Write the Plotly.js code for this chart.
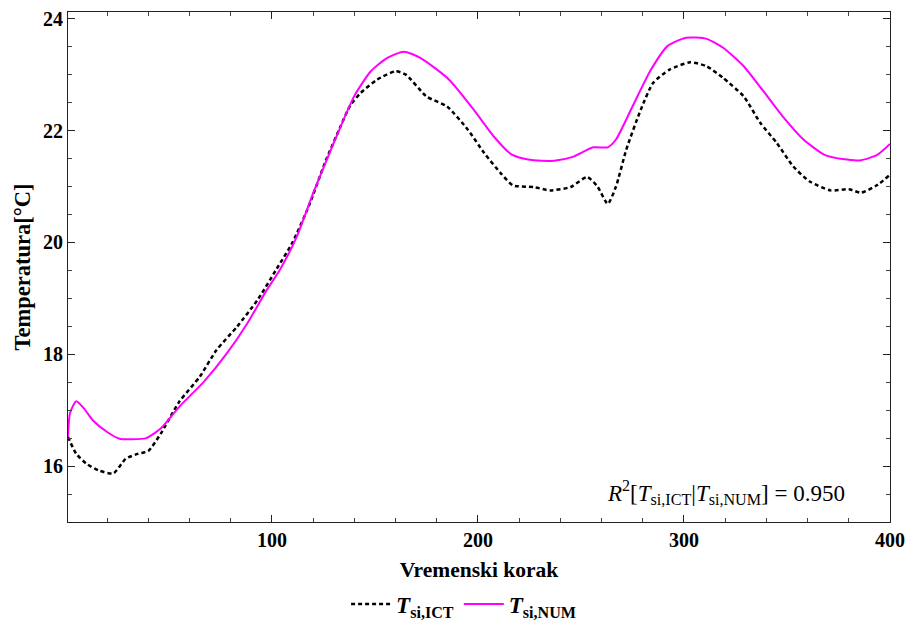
<!DOCTYPE html>
<html>
<head>
<meta charset="utf-8">
<script src="https://cdn.plot.ly/plotly-3.0.1.min.js"></script>
<style>html,body{margin:0;padding:0;background:#fff;}#chart{width:909px;height:626px;}</style>
</head>
<body>
<div id="chart"></div>
<script>
// Tsi,NUM (magenta)
const numX = [1, 2, 5, 9, 13, 20, 26, 32, 39, 46, 55, 67, 78, 88, 97, 104, 112, 120, 130, 140, 148, 156, 164, 172, 186, 198, 208, 216, 222, 227, 237, 246, 256, 263, 267, 275, 284, 292, 301, 311, 319, 329, 338, 348, 358, 368, 377, 386, 394, 400];
const numY = [16.52, 16.95, 17.16, 17.02, 16.82, 16.61, 16.49, 16.48, 16.50, 16.67, 17.06, 17.51, 18.01, 18.55, 19.12, 19.52, 20.10, 20.88, 21.78, 22.62, 23.06, 23.30, 23.41, 23.30, 22.91, 22.37, 21.88, 21.58, 21.50, 21.47, 21.46, 21.53, 21.70, 21.70, 21.84, 22.43, 23.09, 23.51, 23.66, 23.64, 23.48, 23.15, 22.73, 22.25, 21.84, 21.57, 21.49, 21.47, 21.57, 21.76];
// Tsi,ICT (black dashed)
const ictX = [1, 5, 10, 16, 23, 29, 35, 40, 46, 55, 65, 73, 83, 93, 102, 110, 118, 126, 133, 138, 143, 151, 160, 165, 175, 185, 195, 203, 211, 217, 227, 235, 245, 253, 258, 263, 267, 272, 279, 285, 293, 303, 311, 319, 329, 337, 345, 353, 361, 371, 380, 386, 394, 400];
const ictY = [16.52, 16.22, 16.04, 15.92, 15.87, 16.13, 16.22, 16.27, 16.58, 17.15, 17.60, 18.07, 18.49, 18.97, 19.51, 20.00, 20.66, 21.45, 22.05, 22.45, 22.67, 22.91, 23.06, 23.00, 22.61, 22.43, 22.02, 21.60, 21.24, 21.02, 20.99, 20.93, 20.99, 21.17, 21.00, 20.69, 21.00, 21.66, 22.37, 22.85, 23.09, 23.22, 23.15, 22.94, 22.61, 22.14, 21.78, 21.36, 21.09, 20.93, 20.95, 20.89, 21.03, 21.21];
const yTicks = [16, 18, 20, 22, 24];
const xTicks = [100, 200, 300, 400];
const nameICT = '<b><i>T</i><sub>si,ICT</sub></b>';
const nameNUM = '<b><i>T</i><sub>si,NUM</sub></b>';
const r2Text = '<i>R</i><sup>2</sup>[<i>T</i><sub>si,ICT</sub>|<i>T</i><sub>si,NUM</sub>] = 0.950';

const serif = 'Liberation Serif, Times New Roman, serif';
const traces = [
  {x: ictX, y: ictY, name: nameICT, type: 'scatter', mode: 'lines',
   line: {color: '#000000', width: 2.5, dash: '4px,3px', shape: 'spline', smoothing: 0.6}},
  {x: numX, y: numY, name: nameNUM, type: 'scatter', mode: 'lines',
   line: {color: '#FF00FF', width: 2, shape: 'spline', smoothing: 0.6}}
];
const axisCommon = {
  showline: true, linecolor: '#222', linewidth: 1, mirror: 'ticks',
  ticks: 'inside', ticklen: 7, tickcolor: '#222', tickwidth: 1,
  showgrid: false, zeroline: false, automargin: false,
  tickfont: {family: serif, size: 20, color: '#000', weight: 'bold'}
};
const layout = {
  width: 909, height: 626,
  margin: {l: 68, r: 19, t: 12, b: 104, autoexpand: false},
  paper_bgcolor: '#fff', plot_bgcolor: '#fff',
  showlegend: true,
  legend: {orientation: 'h', xref: 'container', yref: 'container', x: 0.51, xanchor: 'center', y: 0.035, yanchor: 'middle',
           font: {family: serif, size: 23, color: '#000'}, itemwidth: 40, tracegroupgap: 0},
  xaxis: Object.assign({}, axisCommon, {
    range: [1, 400], tickvals: xTicks, ticktext: xTicks.map(String),
    minor: {dtick: 20, tick0: 0, ticks: 'inside', ticklen: 4, tickcolor: '#444'},
    title: {text: '<b>Vremenski korak</b>', font: {family: serif, size: 21.5, color: '#000'}, standoff: 11}
  }),
  yaxis: Object.assign({}, axisCommon, {
    range: [15, 24.12], tickvals: yTicks, ticktext: yTicks.map(String),
    minor: {dtick: 0.5, tick0: 0, ticks: 'inside', ticklen: 4, tickcolor: '#444'},
    title: {text: '<b>Temperatura[°C]</b>', font: {family: serif, size: 22.5, color: '#000'}, standoff: 6}
  }),
  annotations: [{
    xref: 'paper', yref: 'paper', x: 0.948, y: 0.057, xanchor: 'right', yanchor: 'middle',
    text: r2Text, showarrow: false, font: {family: serif, size: 23, color: '#000'}
  }]
};
Plotly.newPlot('chart', traces, layout, {displayModeBar: false, staticPlot: true});
</script>
</body>
</html>
